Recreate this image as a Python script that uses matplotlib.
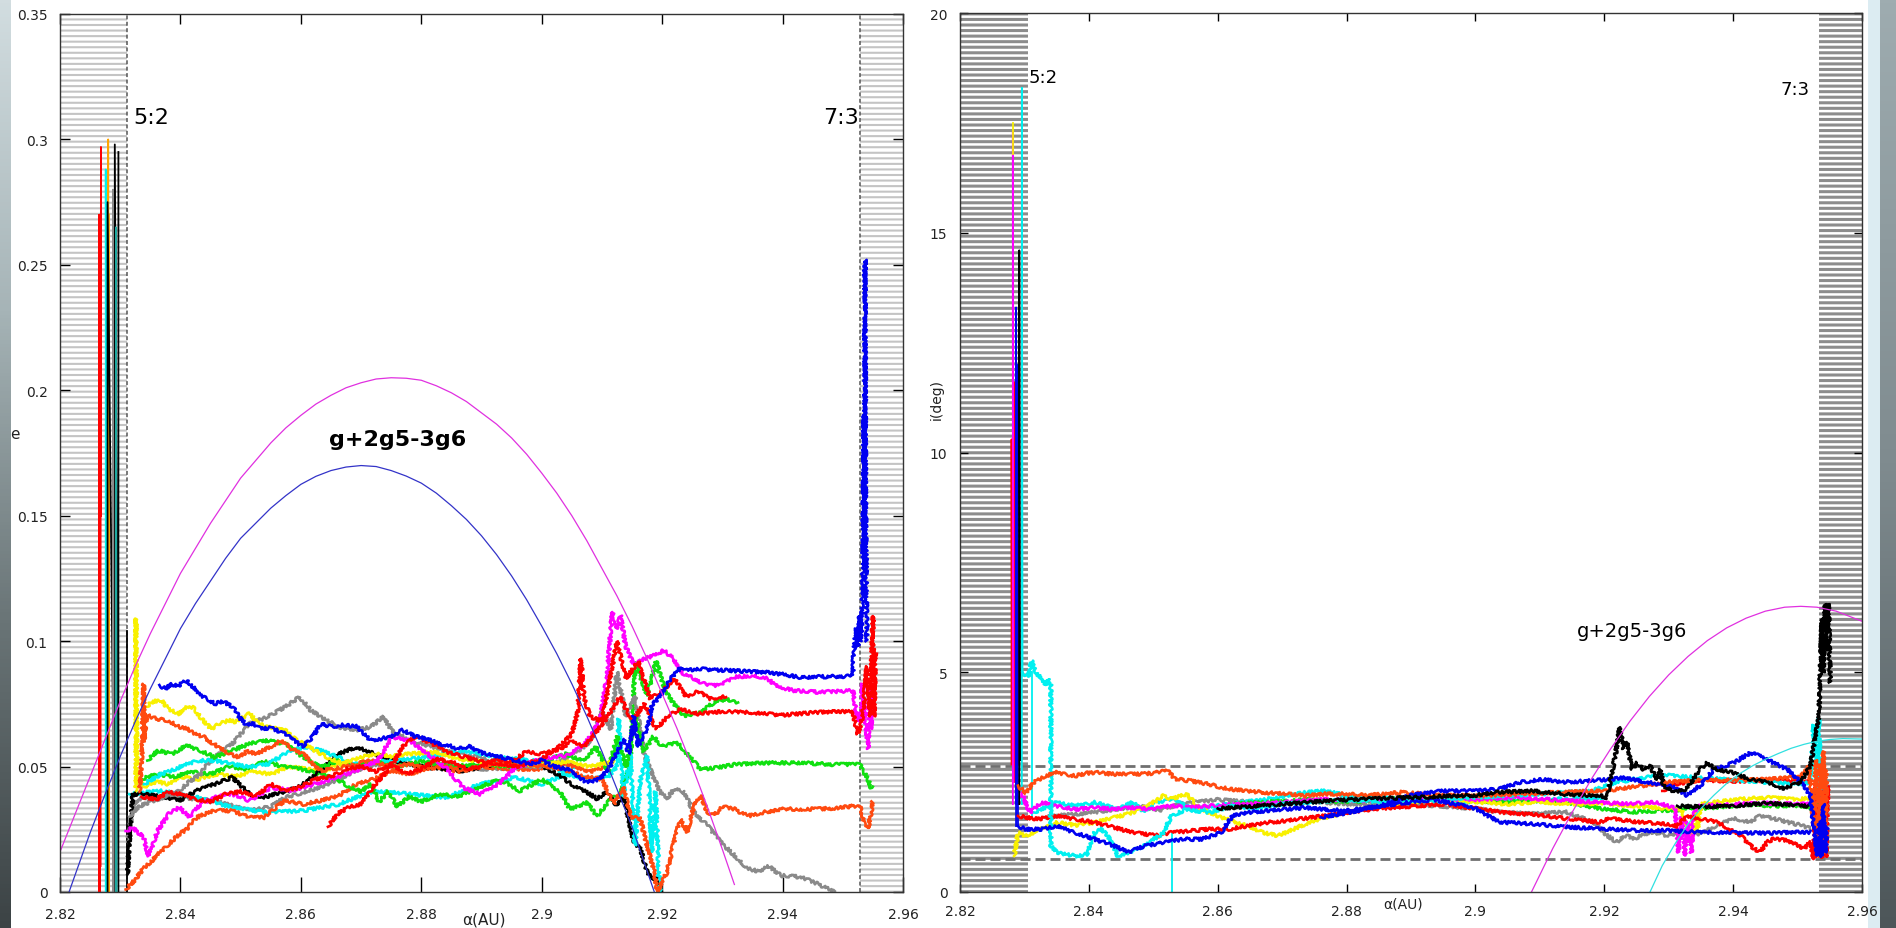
import matplotlib
matplotlib.use("Agg")
import matplotlib.pyplot as plt
from matplotlib.colors import LinearSegmentedColormap
import numpy as np

# ---------------- data: left panel, e vs a ----------------
# resonance curve g+2g5-3g6 (two branches)
e_curve_outer = [(2.820, 0.016), (2.8225, 0.031), (2.825, 0.046), (2.8275, 0.061), (2.830, 0.076),
                 (2.8325, 0.090), (2.835, 0.103), (2.8375, 0.115), (2.840, 0.127), (2.8425, 0.137),
                 (2.845, 0.147), (2.8475, 0.156), (2.850, 0.165), (2.8525, 0.172), (2.855, 0.179),
                 (2.8575, 0.185), (2.860, 0.190), (2.8625, 0.1945), (2.865, 0.198), (2.8675, 0.201),
                 (2.870, 0.203), (2.8725, 0.2045), (2.875, 0.205), (2.8775, 0.2048), (2.880, 0.204),
                 (2.8825, 0.2018), (2.885, 0.199), (2.8875, 0.1955), (2.890, 0.191), (2.8925, 0.1865),
                 (2.895, 0.181), (2.8975, 0.1745), (2.900, 0.167), (2.9025, 0.159), (2.905, 0.150),
                 (2.9075, 0.140), (2.910, 0.129), (2.9125, 0.118), (2.915, 0.106), (2.9175, 0.093),
                 (2.920, 0.079), (2.9225, 0.065), (2.925, 0.050), (2.9275, 0.034), (2.930, 0.017),
                 (2.932, 0.003)]
e_curve_inner = [(2.8215, 0.0), (2.825, 0.0236), (2.8275, 0.039), (2.830, 0.054), (2.8325, 0.068),
                 (2.835, 0.081), (2.8375, 0.093), (2.840, 0.105), (2.8425, 0.115), (2.845, 0.124),
                 (2.8475, 0.133), (2.850, 0.141), (2.8525, 0.147), (2.855, 0.153), (2.8575, 0.158),
                 (2.860, 0.1625), (2.8625, 0.1657), (2.865, 0.168), (2.8675, 0.1694), (2.870, 0.170),
                 (2.8725, 0.1696), (2.875, 0.168), (2.8775, 0.1658), (2.880, 0.163), (2.8825, 0.159),
                 (2.885, 0.154), (2.8875, 0.1485), (2.890, 0.142), (2.8925, 0.1345), (2.895, 0.126),
                 (2.8975, 0.1165), (2.900, 0.106), (2.9025, 0.095), (2.905, 0.083), (2.9075, 0.070),
                 (2.910, 0.056), (2.9125, 0.041), (2.915, 0.026), (2.9187, 0.0)]

# spikes inside the 5:2 resonance
e_spike_red = [(2.8265, 0.0), (2.8265, 0.27), (2.8266, 0.0), (2.8266, 0.27), (2.8267, 0.01),
               (2.8268, 0.297), (2.8268, 0.15)]
e_spike_cyan = [(2.8276, 0.0), (2.8276, 0.288), (2.8277, 0.0)]
e_spike_orange = [(2.8280, 0.0), (2.8280, 0.300), (2.8281, 0.0), (2.8281, 0.27)]
e_spike_black = [(2.8279, 0.0), (2.8279, 0.275), (2.8291, 0.0), (2.8291, 0.298), (2.8297, 0.0),
                 (2.8297, 0.295)]
e_spike_gray = [(2.8288, 0.0), (2.8288, 0.28), (2.8289, 0.0)]
e_spike_teal = [(2.8293, 0.0), (2.8293, 0.265), (2.8294, 0.0)]
e_spike_black2 = [(2.8311, 0.0), (2.8311, 0.104)]

e_blue = [(2.8365, 0.0825), (2.8375, 0.081), (2.8385, 0.083), (2.8395, 0.082), (2.841, 0.0845),
          (2.842, 0.082), (2.843, 0.079), (2.8445, 0.077), (2.8457, 0.075), (2.847, 0.076),
          (2.8486, 0.074), (2.850, 0.069), (2.851, 0.0665), (2.852, 0.067), (2.8533, 0.065),
          (2.855, 0.0655), (2.8574, 0.063), (2.859, 0.060), (2.8604, 0.058), (2.862, 0.062),
          (2.8633, 0.067), (2.865, 0.066), (2.8669, 0.0665), (2.8692, 0.066), (2.8705, 0.063),
          (2.8716, 0.0605), (2.873, 0.061), (2.8751, 0.062), (2.8769, 0.0645), (2.879, 0.062),
          (2.881, 0.061), (2.883, 0.059), (2.8845, 0.0585), (2.886, 0.057), (2.888, 0.058),
          (2.890, 0.0555), (2.8928, 0.054), (2.8957, 0.0525), (2.898, 0.051), (2.900, 0.0525),
          (2.902, 0.050), (2.9042, 0.049), (2.906, 0.046), (2.9075, 0.0437), (2.9097, 0.0451),
          (2.9114, 0.0503), (2.9136, 0.061), (2.9145, 0.055), (2.9153, 0.0701), (2.916, 0.058),
          (2.917, 0.0623), (2.9178, 0.068), (2.9183, 0.0743), (2.9197, 0.0783), (2.9214, 0.085),
          (2.9231, 0.0895), (2.925, 0.0885), (2.9264, 0.0889), (2.929, 0.0885), (2.932, 0.0882),
          (2.935, 0.0878), (2.9375, 0.0875), (2.940, 0.0868), (2.9431, 0.0855), (2.946, 0.0858),
          (2.9486, 0.0859), (2.9517, 0.086), (2.9518, 0.095), (2.9522, 0.105), (2.9525, 0.098),
          (2.9528, 0.11), (2.953, 0.10), (2.9533, 0.12), (2.9535, 0.19), (2.9536, 0.13),
          (2.9537, 0.252), (2.9538, 0.15), (2.954, 0.10)]
e_yellow = [(2.8342, 0.0738), (2.8355, 0.076), (2.8368, 0.0765), (2.838, 0.073), (2.8398, 0.0711),
            (2.841, 0.0735), (2.8421, 0.0738), (2.8435, 0.069), (2.8451, 0.0651), (2.8465, 0.067),
            (2.848, 0.0684), (2.8492, 0.0678), (2.8515, 0.0711), (2.853, 0.067), (2.8545, 0.0658),
            (2.856, 0.065), (2.8574, 0.0644), (2.859, 0.061), (2.8604, 0.0591), (2.8633, 0.0551),
            (2.865, 0.053), (2.8669, 0.0511), (2.869, 0.053), (2.8722, 0.0551), (2.875, 0.054),
            (2.8781, 0.0551), (2.8828, 0.0557), (2.886, 0.053), (2.8887, 0.0524), (2.892, 0.051),
            (2.8957, 0.0511), (2.900, 0.0505), (2.904, 0.052), (2.908, 0.050), (2.912, 0.052)]
e_yellow2 = [(2.8326, 0.040), (2.8326, 0.109), (2.8328, 0.045), (2.834, 0.042), (2.836, 0.044),
             (2.838, 0.043), (2.840, 0.046), (2.843, 0.045), (2.846, 0.047), (2.849, 0.046),
             (2.852, 0.048), (2.855, 0.047), (2.858, 0.050), (2.861, 0.049), (2.864, 0.048),
             (2.866, 0.051), (2.869, 0.050), (2.872, 0.052)]
e_orange = [(2.8332, 0.040), (2.8336, 0.055), (2.8339, 0.083), (2.834, 0.060), (2.8342, 0.0671),
            (2.8345, 0.0705), (2.836, 0.069), (2.838, 0.0684), (2.8395, 0.066), (2.841, 0.0651),
            (2.8425, 0.063), (2.8439, 0.0618), (2.8455, 0.059), (2.8468, 0.0571), (2.848, 0.055),
            (2.8498, 0.0537), (2.851, 0.056), (2.8527, 0.0551), (2.855, 0.058), (2.8568, 0.0604),
            (2.8585, 0.057), (2.8604, 0.0551), (2.862, 0.051), (2.8633, 0.0484), (2.865, 0.049),
            (2.8669, 0.0497), (2.869, 0.051), (2.8716, 0.0524), (2.8751, 0.0497), (2.878, 0.051),
            (2.881, 0.0491), (2.884, 0.050), (2.8869, 0.0484), (2.890, 0.050), (2.8928, 0.0511),
            (2.900, 0.0504), (2.903, 0.049), (2.905, 0.048), (2.907, 0.046), (2.910, 0.045),
            (2.912, 0.035), (2.9135, 0.042), (2.9148, 0.030), (2.9164, 0.0291), (2.9175, 0.018),
            (2.9186, 0.0093), (2.9192, 0.0), (2.9208, 0.008), (2.922, 0.020), (2.923, 0.029),
            (2.9242, 0.024), (2.9253, 0.0345), (2.9264, 0.0385), (2.9275, 0.0318), (2.9286, 0.0305),
            (2.930, 0.034), (2.932, 0.0331), (2.9335, 0.031), (2.9347, 0.0305), (2.9369, 0.0318),
            (2.9403, 0.0331), (2.943, 0.033), (2.9458, 0.0331), (2.949, 0.0335), (2.9528, 0.0345),
            (2.9536, 0.0265), (2.9542, 0.0252), (2.9547, 0.0318), (2.955, 0.036)]
e_orange2 = [(2.8309, 0.001), (2.8325, 0.005), (2.8339, 0.0096), (2.8355, 0.013), (2.8368, 0.0163),
             (2.838, 0.019), (2.8398, 0.023), (2.841, 0.025), (2.8427, 0.0297), (2.844, 0.031),
             (2.8457, 0.0324), (2.8486, 0.0324), (2.8515, 0.0297), (2.8539, 0.0297), (2.856, 0.034),
             (2.8574, 0.0364), (2.8604, 0.035), (2.8633, 0.0364), (2.8663, 0.0384), (2.8692, 0.043),
             (2.8722, 0.045), (2.8751, 0.0484), (2.878, 0.047), (2.882, 0.050), (2.886, 0.048),
             (2.890, 0.050), (2.895, 0.049), (2.900, 0.049), (2.904, 0.051), (2.908, 0.048),
             (2.911, 0.050)]
e_green = [(2.8345, 0.0524), (2.8362, 0.0564), (2.8386, 0.0551), (2.841, 0.0584), (2.8433, 0.0564),
           (2.8457, 0.0537), (2.8486, 0.0564), (2.8515, 0.0591), (2.8545, 0.0604), (2.8574, 0.0591),
           (2.8604, 0.0537), (2.8633, 0.0497), (2.8663, 0.0524), (2.869, 0.050), (2.872, 0.052),
           (2.876, 0.050), (2.880, 0.052), (2.885, 0.050), (2.890, 0.051), (2.895, 0.050),
           (2.900, 0.052), (2.904, 0.055), (2.907, 0.052), (2.909, 0.058), (2.911, 0.048),
           (2.9125, 0.062), (2.914, 0.050), (2.9155, 0.070), (2.917, 0.056), (2.9185, 0.062),
           (2.920, 0.0581), (2.9225, 0.0595), (2.924, 0.0555), (2.9264, 0.0489), (2.929, 0.0495),
           (2.932, 0.0508), (2.9375, 0.0515), (2.9431, 0.0515), (2.9486, 0.0508), (2.9528, 0.0508),
           (2.9536, 0.0475), (2.9542, 0.0449), (2.9547, 0.0415), (2.955, 0.042)]
e_green2 = [(2.8335, 0.045), (2.836, 0.047), (2.839, 0.046), (2.842, 0.048), (2.845, 0.047),
            (2.848, 0.050), (2.851, 0.049), (2.854, 0.052), (2.857, 0.050), (2.860, 0.049),
            (2.863, 0.047), (2.866, 0.045), (2.868, 0.042), (2.870, 0.040), (2.8716, 0.043),
            (2.873, 0.036), (2.8745, 0.040), (2.876, 0.034), (2.878, 0.038), (2.880, 0.036),
            (2.883, 0.039), (2.886, 0.038), (2.889, 0.041), (2.893, 0.045), (2.8964, 0.0403),
            (2.900, 0.0449), (2.9031, 0.0396), (2.9047, 0.033), (2.9075, 0.0356), (2.9092, 0.0303),
            (2.9114, 0.0369), (2.9131, 0.0396), (2.9147, 0.0502), (2.9155, 0.0915), (2.9165, 0.085),
            (2.9175, 0.0783), (2.919, 0.092), (2.9205, 0.080), (2.922, 0.075), (2.9236, 0.0703),
            (2.9264, 0.0716), (2.9286, 0.0756), (2.9308, 0.077), (2.9325, 0.075)]
e_magenta = [(2.8309, 0.0243), (2.8321, 0.0257), (2.8339, 0.0217), (2.8347, 0.0143), (2.8362, 0.0243),
             (2.838, 0.031), (2.8398, 0.0337), (2.8415, 0.0297), (2.8433, 0.035), (2.8457, 0.0377),
             (2.8486, 0.039), (2.8515, 0.0364), (2.8551, 0.0417), (2.8586, 0.0404), (2.8622, 0.043),
             (2.8651, 0.045), (2.8692, 0.0484), (2.8728, 0.0524), (2.8751, 0.0618), (2.8781, 0.0604),
             (2.881, 0.0551), (2.884, 0.0497), (2.8869, 0.0417), (2.8898, 0.039), (2.8928, 0.043),
             (2.8957, 0.0497), (2.900, 0.0531), (2.9042, 0.0545), (2.907, 0.0585), (2.9086, 0.0638),
             (2.9097, 0.0691), (2.9108, 0.085), (2.9117, 0.1116), (2.9125, 0.1049), (2.9131, 0.1103),
             (2.9139, 0.0983), (2.9153, 0.0903), (2.917, 0.093), (2.9186, 0.0943), (2.9203, 0.0963),
             (2.9219, 0.093), (2.9231, 0.0877), (2.9253, 0.085), (2.9275, 0.0823), (2.9297, 0.0823),
             (2.932, 0.0857), (2.9353, 0.0863), (2.9375, 0.085), (2.9392, 0.0817), (2.9419, 0.0803),
             (2.9458, 0.0797), (2.9486, 0.0799), (2.9517, 0.0803), (2.9522, 0.0716), (2.9528, 0.0676),
             (2.9533, 0.083), (2.9539, 0.0623), (2.9542, 0.0571), (2.9545, 0.082), (2.9547, 0.065),
             (2.955, 0.078)]
e_red = [(2.8335, 0.038), (2.836, 0.037), (2.838, 0.040), (2.840, 0.039), (2.8425, 0.037),
         (2.845, 0.036), (2.8475, 0.039), (2.850, 0.040), (2.8525, 0.038), (2.855, 0.043),
         (2.8575, 0.040), (2.860, 0.042), (2.8625, 0.045), (2.865, 0.046), (2.8675, 0.049),
         (2.870, 0.050), (2.8725, 0.048), (2.875, 0.051), (2.8775, 0.047), (2.880, 0.049),
         (2.8825, 0.053), (2.885, 0.052), (2.8875, 0.049), (2.890, 0.050), (2.8925, 0.053),
         (2.895, 0.052), (2.8975, 0.056), (2.900, 0.055), (2.903, 0.057), (2.905, 0.060),
         (2.907, 0.058), (2.9085, 0.062), (2.911, 0.070), (2.913, 0.078), (2.915, 0.068),
         (2.917, 0.075), (2.919, 0.065), (2.921, 0.070), (2.923, 0.073), (2.926, 0.071),
         (2.930, 0.072), (2.935, 0.0715), (2.940, 0.0705), (2.945, 0.0715), (2.950, 0.072),
         (2.9517, 0.0718), (2.952, 0.068), (2.9525, 0.063), (2.953, 0.066), (2.9535, 0.075),
         (2.954, 0.090), (2.9545, 0.070), (2.955, 0.110), (2.9552, 0.070), (2.9554, 0.095)]
e_red2 = [(2.8645, 0.026), (2.866, 0.031), (2.868, 0.034), (2.870, 0.035), (2.872, 0.042),
          (2.875, 0.050), (2.877, 0.058), (2.879, 0.062), (2.881, 0.060), (2.884, 0.056),
          (2.887, 0.054), (2.890, 0.052), (2.893, 0.051), (2.896, 0.050), (2.900, 0.053),
          (2.903, 0.058), (2.905, 0.063), (2.906, 0.072), (2.9065, 0.093), (2.907, 0.078),
          (2.908, 0.070), (2.910, 0.068), (2.9125, 0.100), (2.914, 0.085), (2.916, 0.092),
          (2.918, 0.077), (2.920, 0.080), (2.922, 0.085), (2.924, 0.078), (2.926, 0.080),
          (2.928, 0.077), (2.9306, 0.078)]
e_gray = [(2.8315, 0.030), (2.833, 0.034), (2.835, 0.036), (2.8375, 0.038), (2.8398, 0.0404),
          (2.8415, 0.044), (2.8433, 0.047), (2.8445, 0.051), (2.8457, 0.0537), (2.8486, 0.0591),
          (2.850, 0.063), (2.8515, 0.0671), (2.8545, 0.0698), (2.8574, 0.0738), (2.8598, 0.0778),
          (2.8616, 0.0725), (2.8633, 0.0698), (2.8663, 0.0658), (2.8692, 0.0644), (2.8716, 0.0658),
          (2.8737, 0.0698), (2.8751, 0.0644), (2.8781, 0.0604), (2.884, 0.0564), (2.8898, 0.0537),
          (2.8957, 0.0497), (2.900, 0.050), (2.903, 0.052), (2.906, 0.056), (2.908, 0.060),
          (2.910, 0.072), (2.9115, 0.065), (2.9125, 0.0877), (2.914, 0.070), (2.9155, 0.078),
          (2.917, 0.055), (2.9185, 0.046), (2.9197, 0.0398), (2.9208, 0.0372), (2.922, 0.0412),
          (2.9236, 0.0398), (2.9253, 0.0318), (2.9275, 0.0265), (2.9297, 0.0199), (2.932, 0.0146),
          (2.9342, 0.0093), (2.9364, 0.008), (2.9375, 0.0106), (2.9397, 0.0066), (2.943, 0.006),
          (2.9458, 0.0033), (2.9486, 0.0)]
e_gray2 = [(2.8312, 0.020), (2.8322, 0.035), (2.8339, 0.0377), (2.8398, 0.0377), (2.8457, 0.0364),
           (2.8515, 0.0324), (2.855, 0.034), (2.8574, 0.0377), (2.8633, 0.0417), (2.8692, 0.0484),
           (2.8751, 0.0524), (2.880, 0.050), (2.885, 0.051), (2.890, 0.049), (2.900, 0.050),
           (2.905, 0.051)]
e_black = [(2.8312, 0.007), (2.8315, 0.020), (2.8321, 0.039), (2.8339, 0.039), (2.8368, 0.038),
           (2.8398, 0.0364), (2.8427, 0.0404), (2.8457, 0.043), (2.8486, 0.0457), (2.8515, 0.039),
           (2.8539, 0.0377), (2.8557, 0.039), (2.858, 0.0404), (2.8604, 0.043), (2.8633, 0.0484),
           (2.8663, 0.0551), (2.8692, 0.0578), (2.8722, 0.0551), (2.8751, 0.0524), (2.881, 0.0497),
           (2.8869, 0.0484), (2.8928, 0.051), (2.900, 0.0503), (2.9031, 0.0463), (2.9053, 0.0423),
           (2.9075, 0.0398), (2.9092, 0.0372), (2.9108, 0.0398), (2.9125, 0.0345), (2.9136, 0.038),
           (2.9153, 0.0199), (2.9164, 0.0173), (2.9175, 0.008), (2.9183, 0.0053), (2.9192, 0.006),
           (2.9197, 0.0)]
e_cyan = [(2.8339, 0.043), (2.8368, 0.047), (2.8398, 0.0497), (2.8427, 0.0524), (2.8457, 0.0524),
          (2.8486, 0.051), (2.8515, 0.0497), (2.8545, 0.051), (2.8574, 0.0551), (2.8604, 0.0578),
          (2.8633, 0.0564), (2.8692, 0.051), (2.8751, 0.0524), (2.881, 0.0537), (2.8869, 0.0564),
          (2.8928, 0.0537), (2.900, 0.052), (2.904, 0.047), (2.908, 0.0449), (2.911, 0.046),
          (2.9125, 0.050), (2.9128, 0.069), (2.9136, 0.038), (2.9147, 0.055), (2.9155, 0.0186),
          (2.9164, 0.045), (2.9175, 0.0542), (2.9183, 0.016), (2.9189, 0.040), (2.9195, 0.0053),
          (2.9197, 0.0)]
e_cyan2 = [(2.8315, 0.039), (2.8368, 0.0404), (2.8427, 0.0377), (2.8486, 0.0337), (2.8545, 0.0317),
           (2.8604, 0.0324), (2.8663, 0.035), (2.8722, 0.0404), (2.8781, 0.039), (2.884, 0.0377),
           (2.8898, 0.043), (2.8957, 0.0457), (2.900, 0.043), (2.903, 0.046), (2.906, 0.050)]

# ---------------- data: right panel, i vs a ----------------
i_curve_magenta = [(2.9087, 0.0), (2.912, 0.99), (2.915, 1.81), (2.918, 2.57), (2.921, 3.26),
                   (2.924, 3.89), (2.927, 4.45), (2.930, 4.94), (2.933, 5.36), (2.936, 5.72),
                   (2.939, 6.01), (2.942, 6.23), (2.945, 6.39), (2.948, 6.48), (2.9505, 6.50),
                   (2.953, 6.48), (2.956, 6.39), (2.960, 6.16)]
i_curve_cyan = [(2.9271, 0.0), (2.929, 0.6), (2.931, 1.1), (2.933, 1.55), (2.935, 1.9), (2.937, 2.2),
                (2.939, 2.47), (2.941, 2.69), (2.943, 2.87), (2.945, 3.02), (2.947, 3.15),
                (2.949, 3.27), (2.951, 3.36), (2.953, 3.43), (2.955, 3.47), (2.957, 3.49),
                (2.960, 3.48)]

i_spike_red = [(2.8280, 2.9), (2.8280, 10.3), (2.8281, 3.0), (2.8284, 11.6), (2.8285, 2.5),
               (2.8290, 8.0), (2.8291, 2.9)]
i_spike_magenta = [(2.8282, 2.0), (2.8282, 17.3), (2.8283, 2.5)]
i_spike_yellow = [(2.8282, 16.8), (2.8282, 17.5)]
i_spike_blue = [(2.8287, 1.5), (2.8287, 13.3), (2.8288, 2.0), (2.8289, 12.0), (2.8290, 1.5)]
i_spike_black = [(2.8292, 2.0), (2.8292, 14.6), (2.8293, 3.0)]
i_spike_cyan = [(2.8296, 2.0), (2.8296, 18.3), (2.8297, 5.0)]
i_drop_cyan = [(2.8311, 5.0), (2.8311, 1.7)]
i_drop_cyan2 = [(2.8529, 1.35), (2.8529, 0.0)]

i_orange = [(2.829, 2.42), (2.8302, 2.26), (2.8314, 2.49), (2.8332, 2.64), (2.835, 2.72),
            (2.8365, 2.68), (2.8379, 2.64), (2.8395, 2.70), (2.8409, 2.72), (2.8439, 2.68),
            (2.8468, 2.68), (2.8498, 2.70), (2.8522, 2.76), (2.8534, 2.57), (2.8557, 2.53),
            (2.8587, 2.45), (2.8617, 2.34), (2.8646, 2.30), (2.8676, 2.26), (2.8706, 2.23),
            (2.8735, 2.19), (2.8765, 2.23), (2.8795, 2.23), (2.8835, 2.20), (2.8887, 2.27),
            (2.894, 2.20), (2.900, 2.19), (2.905, 2.22), (2.910, 2.25), (2.915, 2.28),
            (2.920, 2.30), (2.925, 2.40), (2.930, 2.50), (2.935, 2.55), (2.940, 2.55),
            (2.945, 2.56), (2.9505, 2.62), (2.9518, 2.87), (2.9525, 1.5), (2.9528, 3.0),
            (2.9532, 0.8), (2.9535, 2.9), (2.9538, 1.0), (2.954, 3.2), (2.9543, 0.9),
            (2.9545, 2.8)]
i_magenta = [(2.8296, 2.26), (2.8308, 1.81), (2.8326, 2.04), (2.835, 1.96), (2.8379, 1.88),
             (2.8409, 1.92), (2.8439, 1.88), (2.8468, 1.92), (2.8498, 1.88), (2.8528, 1.96),
             (2.8557, 1.92), (2.8587, 1.96), (2.8646, 2.00), (2.8706, 2.04), (2.8765, 2.11),
             (2.882, 2.08), (2.888, 2.10), (2.894, 2.12), (2.900, 2.10), (2.906, 2.15),
             (2.912, 2.10), (2.918, 2.05), (2.924, 2.00), (2.928, 2.05), (2.931, 1.90),
             (2.9315, 0.9), (2.932, 1.7), (2.9325, 0.83), (2.933, 1.6), (2.9335, 0.9),
             (2.934, 1.8), (2.9349, 1.96), (2.940, 2.00), (2.945, 2.02), (2.950, 2.00),
             (2.952, 2.00)]
i_cyan = [(2.8297, 5.0), (2.8306, 4.9), (2.8311, 5.27), (2.8318, 5.0), (2.8326, 4.85),
          (2.8332, 4.7), (2.8338, 4.85), (2.8341, 4.70), (2.8341, 1.05), (2.835, 0.9),
          (2.8379, 0.82), (2.8397, 0.86), (2.8409, 1.35), (2.842, 1.43), (2.8433, 1.2),
          (2.8445, 0.82), (2.8462, 0.9), (2.8486, 1.05), (2.8516, 1.35), (2.8528, 1.73),
          (2.8551, 1.88), (2.8587, 1.81), (2.862, 1.95), (2.866, 1.90), (2.870, 2.00),
          (2.875, 2.05), (2.880, 2.10), (2.886, 2.05), (2.892, 2.10), (2.900, 2.15),
          (2.906, 2.20), (2.912, 2.25), (2.918, 2.30), (2.922, 2.50), (2.926, 2.60),
          (2.930, 2.65), (2.935, 2.60), (2.940, 2.55), (2.945, 2.50), (2.950, 2.45),
          (2.952, 2.50), (2.9525, 3.8), (2.953, 2.4), (2.9533, 3.98), (2.9536, 2.2)]
i_cyan2 = [(2.8314, 1.81), (2.835, 2.04), (2.8379, 1.96), (2.8409, 2.04), (2.8445, 1.88),
           (2.8468, 2.04), (2.8486, 1.81), (2.8504, 2.04), (2.8528, 2.11), (2.8563, 1.88),
           (2.8617, 2.00), (2.8676, 2.11), (2.8735, 2.26), (2.8765, 2.30), (2.880, 2.20),
           (2.885, 2.15), (2.890, 2.10), (2.900, 2.05), (2.910, 2.10), (2.920, 2.15)]
i_blue = [(2.829, 1.5), (2.8302, 1.43), (2.8326, 1.43), (2.835, 1.5), (2.8379, 1.35),
          (2.8409, 1.2), (2.8439, 1.05), (2.8462, 0.9), (2.8486, 1.05), (2.8516, 1.12),
          (2.8545, 1.2), (2.8575, 1.2), (2.8605, 1.35), (2.8623, 1.73), (2.8646, 1.81),
          (2.8676, 1.85), (2.8706, 1.88), (2.8735, 1.92), (2.8765, 1.88), (2.880, 1.85),
          (2.885, 1.95), (2.890, 2.05), (2.8935, 2.10), (2.897, 2.00), (2.900, 1.90),
          (2.9037, 1.59), (2.9089, 1.55), (2.9141, 1.48), (2.9193, 1.44), (2.9245, 1.40),
          (2.9297, 1.40), (2.9349, 1.36), (2.9401, 1.35), (2.9453, 1.34), (2.9505, 1.36),
          (2.952, 1.36)]
i_blue2 = [(2.876, 1.7), (2.880, 1.8), (2.885, 1.95), (2.890, 2.2), (2.895, 2.3), (2.900, 2.3),
           (2.9037, 2.34), (2.907, 2.5), (2.9105, 2.56), (2.9135, 2.5), (2.9167, 2.52),
           (2.9209, 2.56), (2.923, 2.6), (2.9266, 2.50), (2.9308, 2.39), (2.9328, 2.2),
           (2.9349, 2.42), (2.937, 2.79), (2.9401, 2.94), (2.9427, 3.17), (2.9442, 3.09),
           (2.9463, 2.94), (2.9484, 2.79), (2.9505, 2.50), (2.952, 2.2), (2.9526, 1.36),
           (2.9531, 0.83), (2.9534, 1.6), (2.9537, 0.8), (2.954, 2.0), (2.9543, 0.9),
           (2.9546, 1.5)]
i_black = [(2.860, 1.9), (2.870, 2.0), (2.880, 2.1), (2.890, 2.15), (2.900, 2.2), (2.9037, 2.27),
           (2.9089, 2.3), (2.9141, 2.22), (2.9193, 2.19), (2.9204, 2.15), (2.9209, 2.5),
           (2.9217, 3.1), (2.9224, 3.75), (2.923, 3.26), (2.9235, 3.41), (2.9243, 2.79),
           (2.9251, 2.94), (2.9261, 2.79), (2.9271, 2.87), (2.9282, 2.56), (2.9287, 2.79),
           (2.9292, 2.42), (2.9308, 2.27), (2.9328, 2.35), (2.9349, 2.79), (2.9359, 2.94),
           (2.9375, 2.79), (2.9401, 2.71), (2.9427, 2.56), (2.9453, 2.50), (2.9479, 2.35),
           (2.9505, 2.50), (2.952, 2.87), (2.9533, 4.0), (2.9538, 6.25), (2.954, 5.0),
           (2.9543, 6.55), (2.9545, 5.5), (2.9548, 6.55), (2.9551, 4.77)]
i_black2 = [(2.9313, 1.96), (2.9349, 1.94), (2.9401, 1.96), (2.9453, 2.02), (2.9505, 1.96),
            (2.952, 1.96)]
i_gray = [(2.833, 1.7), (2.836, 1.75), (2.840, 1.8), (2.845, 1.9), (2.848, 1.95), (2.851, 1.85),
          (2.854, 2.0), (2.857, 2.05), (2.860, 2.1), (2.865, 2.05), (2.870, 2.0), (2.875, 2.05),
          (2.880, 2.0), (2.890, 2.0), (2.900, 1.9), (2.9037, 1.82), (2.9089, 1.78),
          (2.9141, 1.82), (2.9183, 1.59), (2.9204, 1.29), (2.9219, 1.14), (2.9235, 1.29),
          (2.9245, 1.21), (2.9271, 1.36), (2.9297, 1.29), (2.9323, 1.36), (2.9349, 1.32),
          (2.9375, 1.52), (2.9401, 1.67), (2.9427, 1.59), (2.9442, 1.74), (2.9463, 1.67),
          (2.9484, 1.59), (2.9505, 1.52), (2.952, 1.44)]
i_red = [(2.829, 1.73), (2.832, 1.66), (2.835, 1.73), (2.8379, 1.66), (2.8409, 1.58),
         (2.8439, 1.47), (2.8468, 1.35), (2.851, 1.28), (2.8528, 1.35), (2.8557, 1.39),
         (2.8587, 1.43), (2.8617, 1.43), (2.8646, 1.5), (2.8676, 1.58), (2.8706, 1.62),
         (2.8765, 1.73), (2.880, 1.81), (2.885, 1.9), (2.890, 1.95), (2.895, 2.0), (2.900, 1.9),
         (2.905, 1.8), (2.910, 1.75), (2.9141, 1.67), (2.9193, 1.59), (2.921, 1.68),
         (2.925, 1.59), (2.9297, 1.55), (2.9313, 1.5), (2.9328, 1.72), (2.9349, 1.67),
         (2.9375, 1.59), (2.9411, 1.29), (2.9432, 0.99), (2.9442, 0.91), (2.9453, 1.14),
         (2.9463, 1.21), (2.9484, 1.17), (2.951, 0.99), (2.952, 1.14), (2.9525, 0.75),
         (2.9528, 2.5), (2.9531, 0.8), (2.9535, 3.0), (2.9538, 0.78), (2.9541, 2.6),
         (2.9544, 0.8), (2.9547, 2.4)]
i_red2 = [(2.929, 2.3), (2.9308, 2.45), (2.9349, 2.55), (2.940, 2.52), (2.945, 2.54),
          (2.9505, 2.52), (2.952, 2.5)]
i_yellow = [(2.8284, 0.82), (2.829, 1.35), (2.8302, 1.28), (2.8326, 1.43), (2.835, 1.58),
            (2.8379, 1.52), (2.8409, 1.58), (2.8439, 1.69), (2.8468, 1.81), (2.8492, 1.96),
            (2.8516, 2.19), (2.8528, 2.11), (2.8551, 2.23), (2.8575, 1.88), (2.8599, 1.73),
            (2.8623, 1.62), (2.8646, 1.5), (2.867, 1.35), (2.8694, 1.28), (2.8718, 1.43),
            (2.8741, 1.58), (2.8765, 1.69), (2.880, 1.81), (2.885, 1.95), (2.890, 2.05),
            (2.895, 2.1), (2.900, 2.05), (2.905, 2.0), (2.910, 2.05), (2.915, 2.0),
            (2.920, 2.02), (2.925, 1.95), (2.930, 1.9), (2.932, 1.85), (2.9335, 1.2),
            (2.934, 1.8), (2.9345, 1.4), (2.935, 2.0), (2.940, 2.1), (2.945, 2.15),
            (2.950, 2.1), (2.952, 2.15)]
i_green = [(2.862, 2.0), (2.868, 2.05), (2.874, 2.1), (2.880, 2.05), (2.886, 2.1), (2.892, 2.15),
           (2.898, 2.1), (2.9037, 2.04), (2.9089, 2.08), (2.9141, 2.04), (2.9193, 1.9),
           (2.9245, 1.82), (2.9297, 1.86), (2.9349, 1.9), (2.9401, 1.96), (2.9437, 2.0),
           (2.9453, 1.96), (2.9505, 1.96), (2.952, 1.94), (2.9528, 1.7), (2.9534, 2.2)]

x_ticks = [2.82, 2.84, 2.86, 2.88, 2.90, 2.92, 2.94, 2.96]
x_tick_labels = ['2.82', '2.84', '2.86', '2.88', '2.9', '2.92', '2.94', '2.96']
e_ticks = [0, 0.05, 0.1, 0.15, 0.2, 0.25, 0.3, 0.35]
e_tick_labels = ['0', '0.05', '0.1', '0.15', '0.2', '0.25', '0.3', '0.35']
i_ticks = [0, 5, 10, 15, 20]

# resonance borders
res52_e, res73_e = 2.8311, 2.9529
res52_i, res73_i = 2.8306, 2.9533
i_band = [2.87, 0.75]

RED, GREEN, BLUE = '#ff0000', '#10e010', '#0000f0'
MAG, CYAN, YEL = '#ff00ff', '#00f0f0', '#f8f000'
ORG, GRAY, BLK = '#ff4a10', '#8a8a8a', '#000000'


def draw(ax, pts, color, lw=1.9, z=3, rough=True):
    a = [p[0] for p in pts]
    v = [p[1] for p in pts]
    ln, = ax.plot(a, v, color=color, lw=lw, zorder=z)
    if rough:
        # jagged look of the integrated orbits (drawing style only)
        ln.set_sketch_params(scale=1.6, length=3.0, randomness=6.0)


def hatch_band(ax, x0, x1, color, hlw):
    with plt.rc_context({'hatch.linewidth': hlw, 'hatch.color': color}):
        p = ax.axvspan(x0, x1, facecolor='white', edgecolor=color, hatch='---', lw=0, zorder=1)
    if hasattr(p, 'set_hatch_linewidth'):
        p.set_hatch_linewidth(hlw)


fig = plt.figure(figsize=(18.96, 9.29), dpi=100)
fig.patch.set_facecolor('white')

# window-frame strips at the picture edges
cm_l = LinearSegmentedColormap.from_list('l', ['#d2dde0', '#a6b4b7', '#6a7577', '#3c4345'])
sl = fig.add_axes([0, 0, 11 / 1896, 1])
sl.imshow(np.linspace(0, 1, 256).reshape(-1, 1), aspect='auto', cmap=cm_l)
sl.axis('off')
sr1 = fig.add_axes([1868 / 1896, 0, 12 / 1896, 1])
sr1.imshow(np.zeros((2, 1)), aspect='auto', cmap=LinearSegmentedColormap.from_list('r1', ['#dcecf2', '#dcecf2']))
sr1.axis('off')
cm_r = LinearSegmentedColormap.from_list('r', ['#9eacb0', '#7f8b8f', '#4d5659'])
sr2 = fig.add_axes([1880 / 1896, 0, 16 / 1896, 1])
sr2.imshow(np.linspace(0, 1, 256).reshape(-1, 1), aspect='auto', cmap=cm_r)
sr2.axis('off')

ax1 = fig.add_axes([60 / 1896, 1 - 893 / 929, 843 / 1896, 878 / 929])
ax2 = fig.add_axes([960 / 1896, 1 - 893 / 929, 902 / 1896, 879 / 929])

# ---------------- left panel ----------------
hatch_band(ax1, 2.82, res52_e, '#c4c4c4', 1.5)
hatch_band(ax1, res73_e, 2.96, '#c4c4c4', 1.5)
for xv in (res52_e, res73_e):
    ax1.axvline(xv, color='#555555', lw=1.1, dashes=(2.6, 1.6), zorder=2)

for pts, c in [(e_spike_red, RED), (e_spike_cyan, CYAN), (e_spike_orange, '#ffa500'),
               (e_spike_black, BLK), (e_spike_gray, GRAY), (e_spike_teal, '#20a8a0'),
               (e_spike_black2, BLK)]:
    draw(ax1, pts, c, lw=1.3, rough=False)
for pts, c in [(e_gray2, GRAY), (e_cyan2, CYAN), (e_orange2, ORG), (e_yellow2, YEL),
               (e_green2, GREEN), (e_black, BLK), (e_gray, GRAY), (e_cyan, CYAN),
               (e_green, GREEN), (e_yellow, YEL), (e_orange, ORG), (e_magenta, MAG),
               (e_red2, RED), (e_red, RED), (e_blue, BLUE)]:
    draw(ax1, pts, c)
draw(ax1, e_curve_outer, '#e030e0', lw=0.9, z=4, rough=False)
draw(ax1, e_curve_inner, '#3333c8', lw=0.9, z=4, rough=False)

ax1.set_xlim(2.82, 2.96)
ax1.set_ylim(0, 0.35)
ax1.set_xticks(x_ticks)
ax1.set_xticklabels(x_tick_labels)
ax1.set_yticks(e_ticks)
ax1.set_yticklabels(e_tick_labels)
ax1.tick_params(axis='x', direction='in', length=11, width=1, top=True, labelsize=10, pad=11,
                labelcolor='#222222')
ax1.tick_params(axis='y', direction='in', length=7, width=1, right=True, labelsize=10, pad=9,
                labelcolor='#222222')
for t in ax1.xaxis.get_major_ticks():
    t.tick2line.set_markersize(7)

ax1.text(2.8321, 0.309, '5:2', fontsize=16, ha='left', va='center')
ax1.text(2.9527, 0.309, '7:3', fontsize=16, ha='right', va='center')
ax1.text(2.8761, 0.1806, 'g+2g5-3g6', fontsize=16, fontweight='bold', ha='center', va='center')

# ---------------- right panel ----------------
hatch_band(ax2, 2.82, res52_i, '#8c8c8c', 2.2)
hatch_band(ax2, res73_i, 2.96, '#8c8c8c', 2.2)
for yv in i_band:
    ax2.axhline(yv, color='#707070', lw=2, dashes=(3.6, 1.8), zorder=2)

for pts, c in [(i_spike_red, RED), (i_spike_magenta, MAG), (i_spike_yellow, YEL),
               (i_spike_blue, BLUE), (i_spike_black, BLK), (i_spike_cyan, CYAN),
               (i_drop_cyan, CYAN), (i_drop_cyan2, CYAN)]:
    draw(ax2, pts, c, lw=1.3, rough=False)
for pts, c in [(i_gray, GRAY), (i_cyan2, CYAN), (i_green, GREEN), (i_yellow, YEL),
               (i_magenta, MAG), (i_red, RED), (i_red2, RED), (i_cyan, CYAN),
               (i_orange, ORG), (i_black2, BLK), (i_blue, BLUE), (i_blue2, BLUE),
               (i_black, BLK)]:
    draw(ax2, pts, c)
draw(ax2, i_curve_magenta, '#e030e0', lw=0.9, z=4, rough=False)
draw(ax2, i_curve_cyan, '#30e0e0', lw=0.9, z=4, rough=False)

ax2.set_xlim(2.82, 2.96)
ax2.set_ylim(0, 20)
ax2.set_xticks(x_ticks)
ax2.set_xticklabels(x_tick_labels)
ax2.set_yticks(i_ticks)
ax2.tick_params(axis='both', direction='in', length=6, width=1, top=True, right=True,
                labelsize=10, labelcolor='#222222')
ax2.tick_params(axis='x', pad=9)
ax2.tick_params(axis='y', pad=9)

ax2.text(2.8307, 18.54, '5:2', fontsize=13, ha='left', va='center')
ax2.text(2.9519, 18.27, '7:3', fontsize=13, ha='right', va='center')
ax2.text(2.9243, 5.94, 'g+2g5-3g6', fontsize=14, ha='center', va='center')

for ax in (ax1, ax2):
    for s in ax.spines.values():
        s.set_linewidth(1.0)
        s.set_color('#333333')
        s.set_zorder(6)

fig.text(484 / 1896, 1 - 920 / 929, 'α(AU)', fontsize=11, ha='center', va='center', color='#222222')
fig.text(1403 / 1896, 1 - 905 / 929, 'α(AU)', fontsize=10, ha='center', va='center', color='#222222')
fig.text(15 / 1896, 1 - 435 / 929, 'e', fontsize=11, ha='center', va='center', color='#222222')
fig.text(937 / 1896, 1 - 400 / 929, 'i(deg)', fontsize=10, rotation=90, ha='center', va='center',
         color='#222222')

fig.savefig('out.png', dpi=100, facecolor='white')
